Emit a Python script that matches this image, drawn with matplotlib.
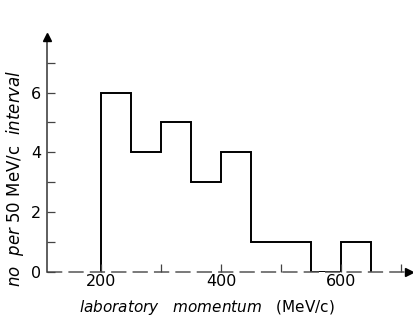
import numpy as np
import matplotlib.pyplot as plt

# histogram of laboratory momenta, 50 MeV/c bins
bin_edges = [200, 250, 300, 350, 400, 450, 500, 550, 600, 650]
counts = [6, 4, 5, 3, 4, 1, 1, 0, 1]

x_ticks = [200, 300, 400, 500, 600, 700]
x_ticklabels = ['200', '', '400', '', '600', '']
y_ticks = [0, 1, 2, 3, 4, 5, 6, 7]
y_ticklabels = ['0', '', '2', '', '4', '', '6', '']

fig = plt.figure(figsize=(4.14, 3.23), dpi=100)
ax = fig.add_axes([0.1128, 0.1591, 0.8848, 0.7387])

ax.stairs(counts, bin_edges, color='black', lw=1.4, baseline=0)

ax.set_xlim(109.5, 720)
ax.set_ylim(0, 8)

for s in ax.spines.values():
    s.set_visible(False)

# axis lines with arrows
ax.plot([0, 0.985], [0, 0], transform=ax.transAxes, color='#555555', lw=1.1,
        dashes=(10, 4), clip_on=False, zorder=1)
ax.plot([0, 0], [0, 0.98], transform=ax.transAxes, color='#333333', lw=1.1,
        clip_on=False, zorder=1)
ax.plot(0.988, 0, marker='>', color='black', ms=6, transform=ax.transAxes, clip_on=False)
ax.plot(0, 0.982, marker='^', color='black', ms=6, transform=ax.transAxes, clip_on=False)

ax.set_xticks(x_ticks)
ax.set_xticklabels(x_ticklabels)
ax.set_yticks(y_ticks)
ax.set_yticklabels(y_ticklabels)
ax.tick_params(axis='both', direction='in', length=6, width=0.9, color='#444444',
               labelsize=11.5, pad=4)
ax.tick_params(axis='x', pad=2)

fig.text(0.5, 0.048, r'$\it{laboratory\ \ \ momentum}$   (MeV/c)', fontsize=11,
         ha='center', va='center')
fig.text(0.036, 0.449, r'$\it{no\ \ per}$ 50 MeV/c  $\it{interval}$', fontsize=12,
         ha='center', va='center', rotation=90)

fig.savefig('out.png', dpi=100)
